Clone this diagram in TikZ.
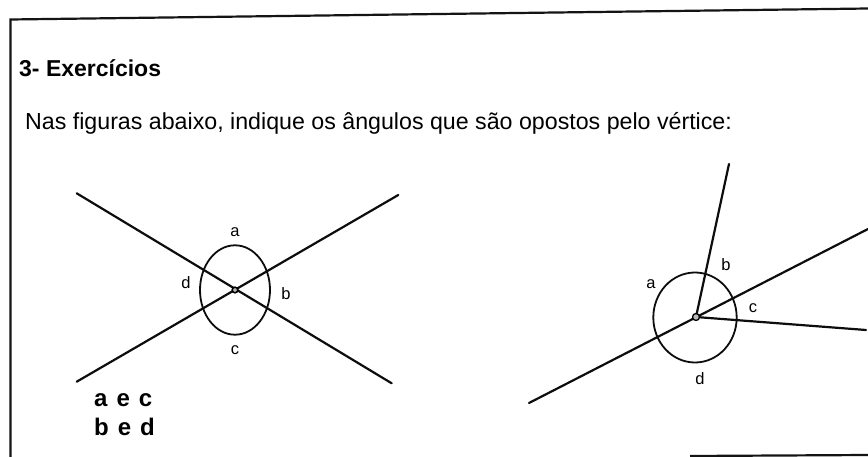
\documentclass[tikz,border=0pt]{standalone}
\usepackage{fontspec}
\setmainfont{Liberation Sans}
\begin{document}
\begin{tikzpicture}[x=1pt,y=-1pt,
  geo/.style={line width=2.2pt,line cap=round,black!95},
  arcline/.style={line width=1.8pt,black!95},
  frame/.style={line width=2.2pt,black!92},
  lbl/.style={font=\fontsize{16.5}{18}\selectfont,inner sep=0pt},
  hand/.style={font=\bfseries\fontsize{24}{26}\selectfont,inner sep=0pt,anchor=base west}]
\useasboundingbox (0,0) rectangle (868,457);
\fill[white] (0,0) rectangle (868,457);
% frame
\coordinate (FTL) at (10.5,19.5);
\coordinate (FTR) at (868,8.5);
\coordinate (FBL) at (10.5,457);
\coordinate (FB1) at (690,456);
\coordinate (FB2) at (868,455);
\draw[frame] (FBL) -- (FTL) -- (FTR);
\draw[frame] (FB1) -- (FB2);
% texts
\node[font=\bfseries\fontsize{23}{25}\selectfont,anchor=base west,inner sep=0pt] (title) at (19,77) {3- Exercícios};
\node[font=\fontsize{23.2}{25}\selectfont,anchor=base west,inner sep=0pt] (instr) at (25,130) {Nas figuras abaixo, indique os ângulos que são opostos pelo vértice:};
% left figure
\coordinate (O1) at (235,290);
\coordinate (A1) at (76.7,193.3);
\coordinate (A2) at (391.7,383.3);
\coordinate (B1) at (76.7,381.7);
\coordinate (B2) at (398.3,195);
\draw[geo] (A1) -- (A2);
\draw[geo] (B1) -- (B2);
\draw[arcline] (O1) ellipse [x radius=35, y radius=44.7];
\draw[line width=1.5pt,fill=gray!60] (O1) circle [radius=2.8];
\node[lbl] (la) at (235,232) {a};
\node[lbl] (lb) at (286,294) {b};
\node[lbl] (lc) at (235,350) {c};
\node[lbl] (ld) at (186,283) {d};
\node[hand] (h1) at (94,406) {a\hspace{9pt}e\hspace{9pt}c};
\node[hand] (h2) at (94,435) {b\hspace{9pt}e\hspace{9pt}d};
% right figure
\coordinate (O2) at (696,317);
\coordinate (C1) at (529,403);
\coordinate (C2) at (868,229);
\coordinate (U) at (729,164);
\coordinate (R) at (866,330);
\draw[geo] (C1) -- (C2);
\draw[geo] (O2) -- (U);
\draw[geo] (O2) -- (R);
\draw[arcline] (695,317.5) ellipse [x radius=41.7, y radius=45];
\draw[line width=1.3pt,fill=gray!55] (O2) circle [radius=3.5];
\node[lbl] (ra) at (651,284) {a};
\node[lbl] (rb) at (726,265) {b};
\node[lbl] (rc) at (753,308) {c};
\node[lbl] (rd) at (700,379) {d};
\end{tikzpicture}
\end{document}
